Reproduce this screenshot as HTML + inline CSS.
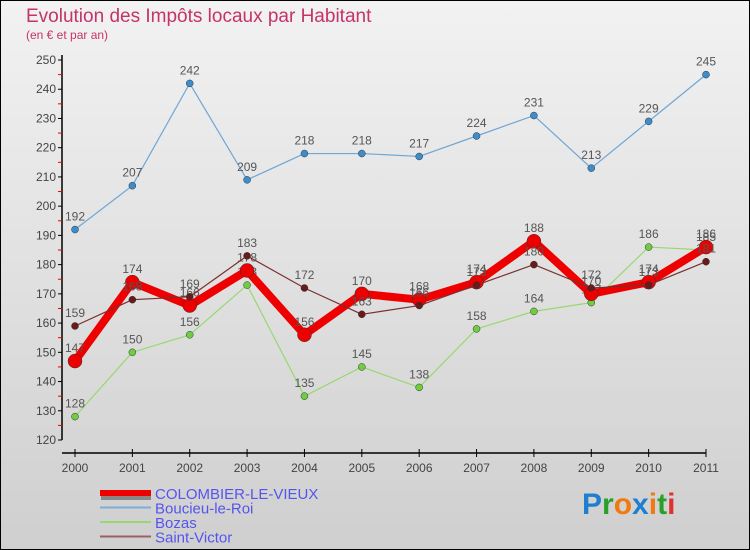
<!DOCTYPE html>
<html><head><meta charset="utf-8"><style>
body{margin:0;width:750px;height:550px;overflow:hidden;font-family:"Liberation Sans",sans-serif}
svg{display:block}
</style></head><body>
<svg width="750" height="550" viewBox="0 0 750 550" xmlns="http://www.w3.org/2000/svg">
<defs><linearGradient id="bg" x1="0" y1="0" x2="0" y2="1"><stop offset="0" stop-color="#f2f2f2"/><stop offset="1" stop-color="#cfcfcf"/></linearGradient></defs>
<rect x="0.5" y="0.5" width="749" height="549" fill="url(#bg)" stroke="#000"/>
<text x="26" y="22" font-size="19" fill="#c5336a">Evolution des Impôts locaux par Habitant</text>
<text x="26" y="39" font-size="12" fill="#c5336a">(en € et par an)</text>
<g id="axes"></g>
<g id="series"></g>
<g id="legend"></g>
<text x="582" y="514" font-size="30" font-weight="bold"><tspan fill="#1e7fd0">P</tspan><tspan fill="#2aa02a">r</tspan><tspan fill="#f07a10">o</tspan><tspan fill="#1e7fd0">x</tspan><tspan fill="#f07a10">i</tspan><tspan fill="#2aa02a">t</tspan><tspan fill="#e03030">i</tspan></text>
</svg>
<script>
const years=[2000,2001,2002,2003,2004,2005,2006,2007,2008,2009,2010,2011];
const yTicks=[120,130,140,150,160,170,180,190,200,210,220,230,240,250];
const colombier=[147,174,166,178,156,170,168,174,188,170,174,186];
const boucieu=[192,207,242,209,218,218,217,224,231,213,229,245];
const bozas=[128,150,156,173,135,145,138,158,164,167,186,185];
const stVictor=[159,168,169,183,172,163,166,173,180,172,173,181];
const NS="http://www.w3.org/2000/svg";
const xS=i=>75+i*(706-75)/11;
const yS=v=>440-(v-120)*(380/130);
function mk(t,a,p){const e=document.createElementNS(NS,t);for(const k in a)e.setAttribute(k,a[k]);p.appendChild(e);return e;}
const ax=document.getElementById('axes');
let l=mk('line',{x1:62,y1:55,x2:62,y2:440,stroke:'#000','stroke-width':1.5},ax);


l=mk('line',{x1:62,y1:453,x2:706,y2:453,stroke:'#000','stroke-width':1.5},ax);


yTicks.forEach((v,i)=>{
  const y=yS(v);
  mk('line',{x1:58,y1:y,x2:62,y2:y,stroke:'#000'},ax);
  if(i<yTicks.length-1)mk('line',{x1:58,y1:y-380/26,x2:62,y2:y-380/26,stroke:'#e00'},ax);
  const t=mk('text',{x:56,y:y+4,'font-size':12,fill:'#444','text-anchor':'end'},ax);
  t.textContent=v;
  
  
});
years.forEach((yr,i)=>{
  const x=xS(i);
  mk('line',{x1:x,y1:449,x2:x,y2:457,stroke:'#000'},ax);
  const t=mk('text',{x:x,y:472,'font-size':12,fill:'#444','text-anchor':'middle'},ax);
  t.textContent=yr;
  
  
});
const sg=document.getElementById('series');
function draw(name,data,color,w,r,dot){
  const g=mk('g',{},sg);
  
  
  mk('polyline',{points:data.map((v,i)=>xS(i)+','+yS(v)).join(' '),fill:'none',stroke:color,'stroke-width':w,'stroke-linejoin':'round'},g);
  data.forEach((v,i)=>{
    const c=mk('circle',{cx:xS(i),cy:yS(v),r:r,fill:dot,stroke:dot==='#d00'?'none':'#333','stroke-width':0.5},g);
    
    
    const t=mk('text',{x:xS(i),y:yS(v)-9,'font-size':12,fill:'#555','text-anchor':'middle'},g);
    t.textContent=v;
  });
}
draw('boucieu',boucieu,'#6fa6d6',1.2,3.5,'#3d8ccc');
draw('bozas',bozas,'#98d870',1.2,3.5,'#70cc40');
draw('colombier',colombier,'#ee0000',8,7,'#ee0000');
draw('saint-victor',stVictor,'#7a3030',1.2,3.5,'#6a1a1a');
const lg=document.getElementById('legend');
const items=[['COLOMBIER-LE-VIEUX','#ee0000',6],['Boucieu-le-Roi','#7aaed6',2],['Bozas','#98d870',2],['Saint-Victor','#9a6060',2]];
items.forEach((it,i)=>{
  const y=493+i*14.5;
  if(i===0)mk('rect',{x:101,y:y+1,width:50,height:6,fill:'#888'},lg);
  mk('rect',{x:100,y:y-it[2]/2,width:51,height:it[2],fill:it[1]},lg);
  const t=mk('text',{x:155,y:y+6,'font-size':15,fill:'#5555ee'},lg);
  t.textContent=it[0];
  
  
});
</script>
</body></html>
